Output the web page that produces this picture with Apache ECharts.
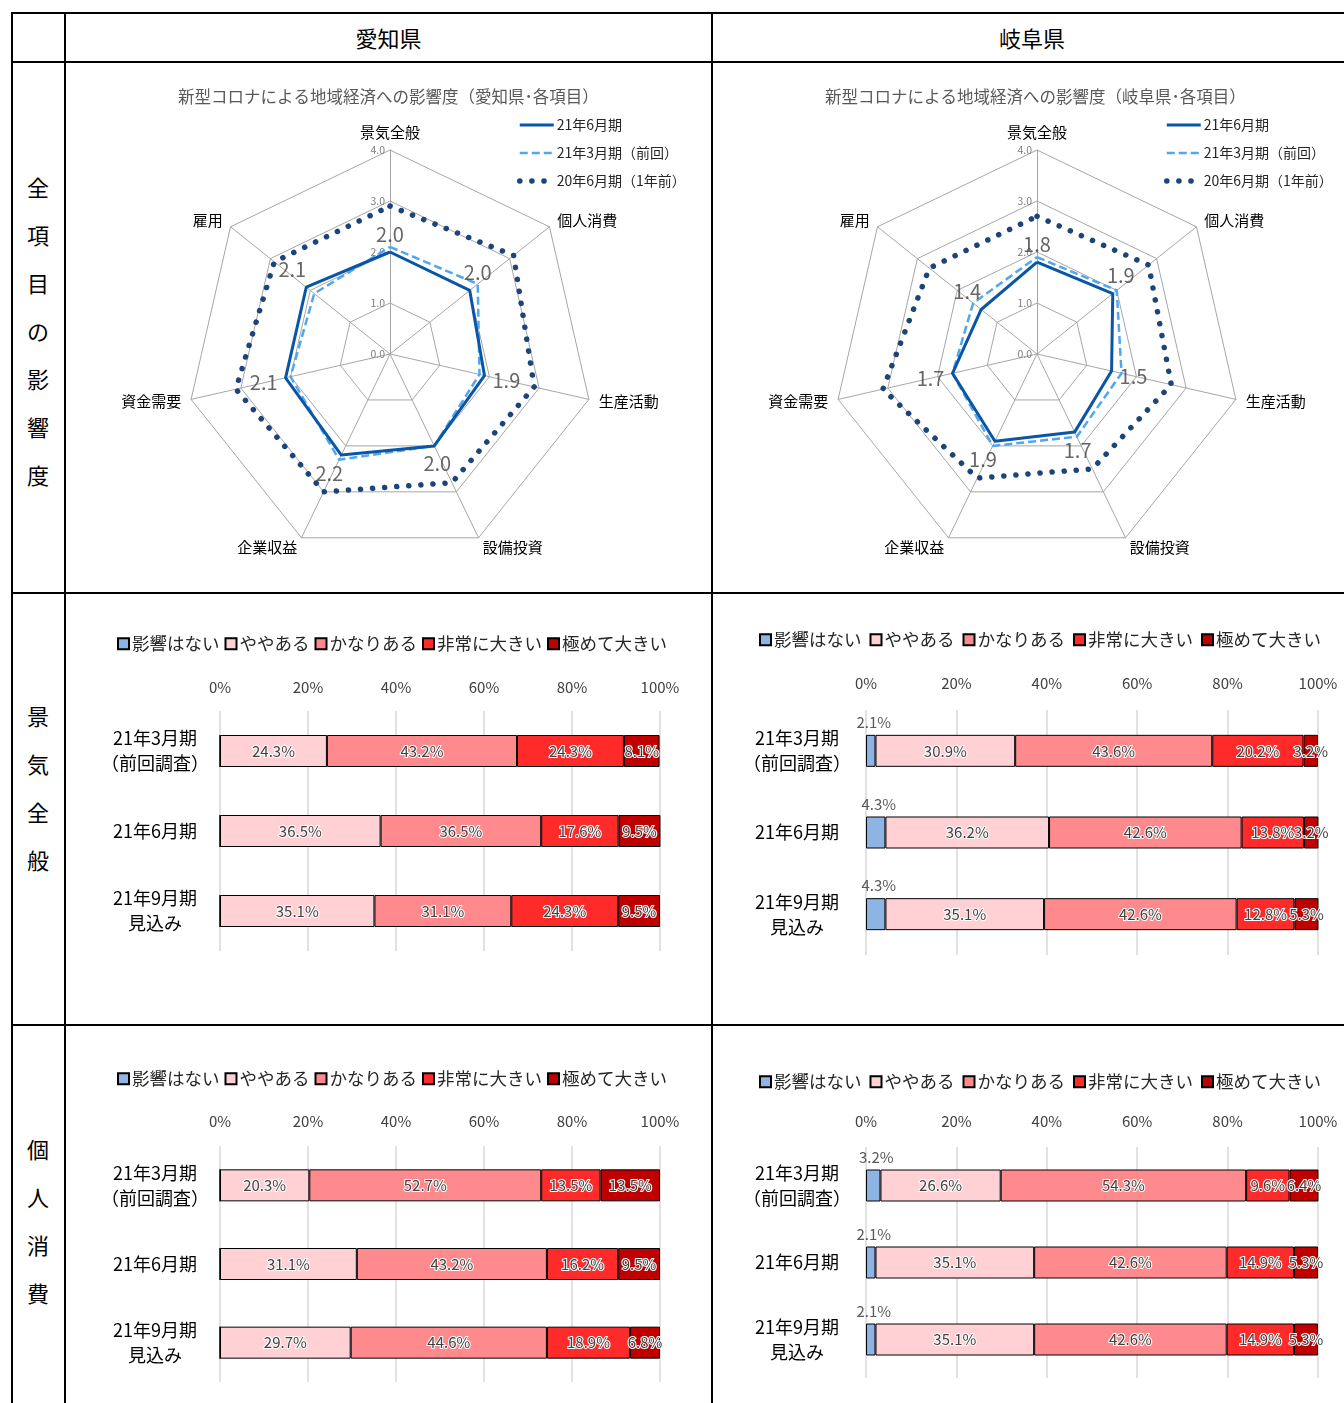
<!DOCTYPE html>
<html lang="ja">
<head>
<meta charset="utf-8">
<title>新型コロナによる地域経済への影響度</title>
<script src="https://cdn.jsdelivr.net/npm/echarts@6/dist/echarts.min.js"></script>
<style>
  html, body { margin: 0; padding: 0; background: #fff; }
  body {
    width: 1344px; height: 1403px; position: relative; overflow: hidden;
    font-family: "Noto Sans CJK JP", "Noto Sans", sans-serif; color: #000;
  }
  .hline { position: absolute; height: 2px; background: #000; }
  .vline { position: absolute; width: 2px; background: #000; }
  .head { position: absolute; top: 14px; height: 47px; line-height: 47px; text-align: center; font-size: 22px; }
  .rowlabel { position: absolute; left: 27px; width: 22px; font-size: 22px; line-height: 48px; text-align: center; }
  .chart { position: absolute; }
</style>
</head>
<body>
  <!-- 表の罫線 -->
  <div class="hline" style="left:11px; top:12px; width:1333px"></div>
  <div class="hline" style="left:11px; top:61px; width:1333px"></div>
  <div class="hline" style="left:11px; top:592px; width:1333px"></div>
  <div class="hline" style="left:11px; top:1024px; width:1333px"></div>
  <div class="vline" style="left:11px; top:12px; height:1391px"></div>
  <div class="vline" style="left:64px; top:12px; height:1391px"></div>
  <div class="vline" style="left:711px; top:12px; height:1391px"></div>

  <div class="head" style="left:66px; width:645px">愛知県</div>
  <div class="head" style="left:713px; width:638px">岐阜県</div>

  <div class="rowlabel" style="top:162px">全項目の影響度</div>
  <div class="rowlabel" style="top:691px">景気全般</div>
  <div class="rowlabel" style="top:1124px">個人消費</div>

  <div class="chart" id="radarAichi" style="left:66px; top:64px; width:645px; height:528px"></div>
  <div class="chart" id="radarGifu" style="left:713px; top:64px; width:631px; height:528px"></div>
  <div class="chart" id="keikiAichi" style="left:66px; top:595px; width:645px; height:429px"></div>
  <div class="chart" id="keikiGifu" style="left:713px; top:595px; width:631px; height:429px"></div>
  <div class="chart" id="kojinAichi" style="left:66px; top:1027px; width:645px; height:376px"></div>
  <div class="chart" id="kojinGifu" style="left:713px; top:1027px; width:631px; height:376px"></div>

<script>
const fontFamily = '"Noto Sans CJK JP", "Noto Sans", sans-serif'

// レーダー：各項目（Excel と同じ時計回りの順）
const radarAxes = ['景気全般', '個人消費', '生産活動', '設備投資', '企業収益', '資金需要', '雇用']
const radarTicks = ['0.0', '1.0', '2.0', '3.0', '4.0']
const radarSeriesNames = ['21年6月期', '21年3月期（前回）', '20年6月期（1年前）']

const aichiJun21 = [2.0, 2.0, 1.9, 2.0, 2.2, 2.1, 2.1]
const aichiMar21 = [2.1, 2.2, 1.8, 2.0, 2.3, 2.0, 1.9]
const aichiJun20 = [2.9, 3.1, 2.9, 2.8, 3.0, 3.1, 2.9]

const gifuJun21 = [1.8, 1.9, 1.5, 1.7, 1.9, 1.7, 1.4]
const gifuMar21 = [1.9, 2.0, 1.7, 1.8, 2.0, 1.7, 1.6]
const gifuJun20 = [2.7, 2.8, 2.7, 2.5, 2.7, 3.1, 2.7]

// 帯グラフ
const barCategories = ['21年3月期\n（前回調査）', '21年6月期', '21年9月期\n見込み']
const impactLevels = ['影響はない', 'ややある', 'かなりある', '非常に大きい', '極めて大きい']
const xTicks = ['0%', '20%', '40%', '60%', '80%', '100%']

// 行 = 期、列 = impactLevels
const aichiKeiki = [
  [0, 24.3, 43.2, 24.3, 8.1],
  [0, 36.5, 36.5, 17.6, 9.5],
  [0, 35.1, 31.1, 24.3, 9.5],
]
const gifuKeiki = [
  [2.1, 30.9, 43.6, 20.2, 3.2],
  [4.3, 36.2, 42.6, 13.8, 3.2],
  [4.3, 35.1, 42.6, 12.8, 5.3],
]
const aichiKojin = [
  [0, 20.3, 52.7, 13.5, 13.5],
  [0, 31.1, 43.2, 16.2, 9.5],
  [0, 29.7, 44.6, 18.9, 6.8],
]
const gifuKojin = [
  [3.2, 26.6, 54.3, 9.6, 6.4],
  [2.1, 35.1, 42.6, 14.9, 5.3],
  [2.1, 35.1, 42.6, 14.9, 5.3],
]

// ---- styles ----
const radarLines = [
  { color: '#0a56a6', width: 3, type: 'solid' },
  { color: '#52a6f0', width: 2.5, type: [8, 4] },
  { color: '#1d4479', width: 5.5, type: [0.1, 12], cap: 'round' },
]
const radarLabelPos = ['top', 'top', 'right', 'bottom', 'bottom', 'left', 'top']
const radarLabelOffset = [[0, 0], [8, 0], [0, 5], [3, 0], [-12, 0], [0, 5], [-14, 0]]
const barColors = ['#8db4e2', '#ffd1d4', '#ff8a8e', '#ff2a2a', '#c00000']

function radarOption(title, values) {
  const cx = 324
  const cy = 290
  const r = 204
  const step = 360 / radarAxes.length
  // radar は反時計回りなので先頭以外を逆順に
  const order = [0].concat(radarAxes.map((_, i) => i).slice(1).reverse())
  const toPolar = (vals) => vals.map((v, i) => [v, i * step]).concat([[vals[0], 360]])
  return {
    animation: false,
    textStyle: { fontFamily },
    title: {
      text: title,
      left: 112,
      top: 24,
      padding: 0,
      textStyle: { fontSize: 16.5, fontWeight: 'normal', color: '#595959' },
    },
    legend: {
      orient: 'vertical',
      left: 446,
      top: 49,
      itemWidth: 34,
      itemHeight: 14,
      itemGap: 14,
      selectedMode: false,
      data: radarSeriesNames,
      itemStyle: { opacity: 0 },
      lineStyle: { width: 'inherit' },
      textStyle: { fontSize: 14, color: '#262626', padding: [0, 0, 0, -2] },
    },
    radar: {
      center: [cx, cy],
      radius: r,
      startAngle: 90,
      splitNumber: 4,
      shape: 'polygon',
      indicator: order.map((i) => ({ name: radarAxes[i], min: 0, max: 4 })),
      axisName: { color: '#000', fontSize: 15 },
      nameGap: 10,
      splitLine: { lineStyle: { color: '#a6a6a6', width: 1 } },
      splitArea: { show: false },
      axisLine: { lineStyle: { color: '#a6a6a6', width: 1 } },
    },
    polar: { center: [cx, cy], radius: r },
    angleAxis: {
      type: 'value', min: 0, max: 360, startAngle: 90,
      axisLine: { show: false }, axisTick: { show: false },
      axisLabel: { show: false }, splitLine: { show: false },
    },
    radiusAxis: {
      type: 'value', min: 0, max: 4, interval: 1,
      axisLine: { show: false }, axisTick: { show: false }, splitLine: { show: false },
      axisLabel: {
        fontSize: 10.5, color: '#7f7f7f', margin: 5,
        formatter: (v) => radarTicks[Math.round(v)],
      },
    },
    series: values.map((vals, k) => ({
      name: radarSeriesNames[k],
      type: 'line',
      coordinateSystem: 'polar',
      symbol: 'none',
      silent: true,
      z: 5 - k,
      data: toPolar(vals),
      lineStyle: radarLines[k],
      itemStyle: { color: radarLines[k].color },
    })).concat([{
      type: 'scatter',
      coordinateSystem: 'polar',
      symbolSize: 0,
      silent: true,
      z: 10,
      data: values[0].map((v, i) => ({
        value: [v, i * step],
        label: { position: radarLabelPos[i], offset: radarLabelOffset[i] },
      })),
      label: {
        show: true,
        distance: 8,
        fontSize: 20,
        color: '#404040',
        formatter: (p) => p.value[0].toFixed(1),
      },
    }]),
  }
}

function barOption(rows, L) {
  return {
    animation: false,
    textStyle: { fontFamily },
    legend: {
      top: L.legendTop,
      left: L.legendLeft,
      icon: 'rect',
      itemWidth: 11,
      itemHeight: 11,
      itemGap: L.legendGap,
      selectedMode: false,
      data: impactLevels,
      textStyle: { fontSize: 17.5, color: '#262626', padding: [0, 0, 0, -2] },
    },
    grid: { left: L.left, right: L.right, top: L.top, height: L.height },
    xAxis: {
      type: 'value',
      position: 'top',
      min: 0,
      max: 100,
      interval: 20,
      axisLine: { show: false },
      axisTick: { show: false },
      axisLabel: {
        fontSize: 15, color: '#404040', margin: L.xMargin,
        formatter: (v) => xTicks[Math.round(v / 20)],
      },
      splitLine: { lineStyle: { color: '#d9d9d9', width: 1.5 } },
    },
    yAxis: {
      type: 'category',
      inverse: true,
      data: barCategories,
      axisLine: { show: false },
      axisTick: { show: false },
      axisLabel: { fontSize: 18, color: '#000', lineHeight: 25, align: 'center', margin: L.yMargin },
    },
    series: impactLevels.map((name, k) => ({
      name,
      type: 'bar',
      stack: 'total',
      barWidth: 32,
      data: rows.map((r) => r[k]),
      itemStyle: { color: barColors[k], borderColor: '#000', borderWidth: 1 },
      label: k === 0 ? {
        show: true,
        position: 'top',
        distance: 5,
        offset: [3, 0],
        fontSize: 15,
        color: '#595959',
        formatter: (p) => (p.value ? p.value.toFixed(1) + '%' : ''),
      } : {
        show: true,
        position: 'inside',
        fontSize: 15,
        color: '#404040',
        textBorderColor: '#fff',
        textBorderWidth: 2,
        formatter: (p) => (p.value ? p.value.toFixed(1) + '%' : ''),
      },
    })),
  }
}

const charts = []
function draw(id, option) {
  const c = echarts.init(document.getElementById(id))
  c.setOption(option)
  charts.push(c)
}

draw('radarAichi', radarOption('新型コロナによる地域経済への影響度（愛知県･各項目）', [aichiJun21, aichiMar21, aichiJun20]))
draw('radarGifu', radarOption('新型コロナによる地域経済への影響度（岐阜県･各項目）', [gifuJun21, gifuMar21, gifuJun20]))

draw('keikiAichi', barOption(aichiKeiki, {
  legendTop: 35, legendLeft: 46, legendGap: 5, left: 154, right: 51, top: 116, height: 240, xMargin: 16, yMargin: 65,
}))
draw('keikiGifu', barOption(gifuKeiki, {
  legendTop: 31, legendLeft: 41, legendGap: 8, left: 153, right: 26, top: 115, height: 245, xMargin: 19, yMargin: 69,
}))
draw('kojinAichi', barOption(aichiKojin, {
  legendTop: 38, legendLeft: 46, legendGap: 5, left: 154, right: 51, top: 119, height: 236, xMargin: 17, yMargin: 65,
}))
draw('kojinGifu', barOption(gifuKojin, {
  legendTop: 41, legendLeft: 41, legendGap: 8, left: 153, right: 26, top: 120, height: 231, xMargin: 18, yMargin: 69,
}))

window.addEventListener('resize', () => {
  charts.forEach((c) => c.resize())
})
</script>
</body>
</html>
